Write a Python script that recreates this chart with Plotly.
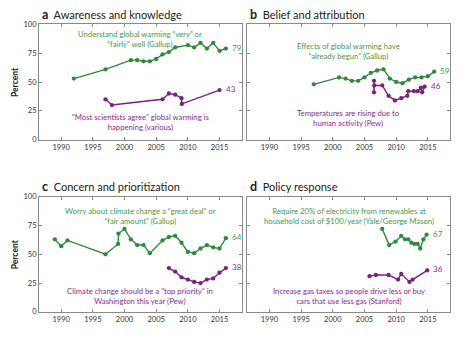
import plotly.graph_objects as go

# ---- data ----
years_a_green = [1992, 1997, 2001, 2002, 2003, 2004, 2005, 2006, 2007, 2008, 2010, 2011, 2012, 2013, 2014, 2015, 2016]
vals_a_green = [53, 61, 69, 69, 68, 68, 70, 74, 76, 80, 82, 80, 84, 79, 84, 77, 79]
years_a_purple = [1997, 1998, 2006, 2007, 2008, 2009, 2009.05, 2015]
vals_a_purple = [35, 30, 35, 40, 39, 36, 31, 43]

years_b_green = [1997, 2001, 2002, 2003, 2004, 2005, 2006, 2007, 2008, 2009, 2010, 2011, 2012, 2013, 2014, 2015, 2016]
vals_b_green = [48, 54, 53, 51, 51, 54, 58, 60, 61, 53, 50, 49, 52, 54, 54, 55, 59]
years_b_purple = [2006.5, 2006.5, 2006.55, 2007.8, 2008.8, 2009.8, 2010.8, 2011.75, 2011.9, 2012.8, 2013.4, 2013.9, 2014.1, 2014.5]
vals_b_purple = [51, 41, 47, 47, 38, 34, 36, 38, 42, 42, 42, 45, 41, 46]

years_c_green = [1989, 1990, 1991, 1997, 1999, 1999.05, 2000, 2001, 2002, 2003, 2004, 2006, 2007, 2008, 2009, 2010, 2011, 2012, 2013, 2014, 2015, 2016]
vals_c_green = [63, 57, 62, 50, 59, 68, 72, 63, 58, 58, 51, 62, 65, 66, 60, 52, 51, 55, 58, 56, 55, 64]
years_c_purple = [2007, 2008, 2009, 2010, 2011, 2012, 2013, 2014, 2015, 2016]
vals_c_purple = [38, 35, 30, 28, 26, 25, 28, 29, 34, 38]

years_d_green = [2007.8, 2008.9, 2009.9, 2010.8, 2011.4, 2011.9, 2012.4, 2012.9, 2013.4, 2013.8, 2014.3, 2014.8]
vals_d_green = [72, 58, 61, 66, 63, 63, 60, 59, 59, 55, 63, 67]
years_d_purple = [2005.8, 2006.8, 2008.8, 2010.3, 2010.8, 2012.1, 2012.6, 2014.9]
vals_d_purple = [31, 32, 32, 28, 33, 26, 28, 36]

panel_letters = ["a", "b", "c", "d"]
panel_titles = ["Awareness and knowledge", "Belief and attribution",
                "Concern and prioritization", "Policy response"]
green_texts = [
    "Understand global warming “very” or<br>“fairly” well (Gallup)",
    "Effects of global warming have<br>“already begun” (Gallup)",
    "Worry about climate change a “great deal” or<br>“fair amount” (Gallup)",
    "Require 20% of electricity from renewables at<br>household cost of $100/year (Yale/George Mason)",
]
purple_texts = [
    "“Most scientists agree” global warming is<br>happening (various)",
    "Temperatures are rising due to<br>human activity (Pew)",
    "Climate change should be a “top priority” in<br>Washington this year (Pew)",
    "Increase gas taxes so people drive less or buy<br>cars that use less gas (Stanford)",
]
green_pos = [(140, 36), (348, 48), (140, 218), (349, 218)]
purple_pos = [(140, 121), (348, 117), (140, 300), (349, 300)]

x_ticks = [1990, 1995, 2000, 2005, 2010, 2015]
y_ticks = [0, 25, 50, 75, 100]

GREEN = "#2f8a3c"
PURPLE = "#7b1f80"
GREEN_T = "#3f9a4c"
PURPLE_T = "#8a2a8f"
AX = "#8a8a8a"
FONT = "Lato"
W, H = 460, 337

series = [
    (years_a_green, vals_a_green, years_a_purple, vals_a_purple),
    (years_b_green, vals_b_green, years_b_purple, vals_b_purple),
    (years_c_green, vals_c_green, years_c_purple, vals_c_purple),
    (years_d_green, vals_d_green, years_d_purple, vals_d_purple),
]

# domains in pixels
xdoms_px = [(39, 241.7), (247.3, 450)]
ydoms_px = [(21, 139.3), (198, 316.3)]

fig = go.Figure()
layout = dict(width=W, height=H, margin=dict(l=0, r=0, t=0, b=0),
              paper_bgcolor="white", plot_bgcolor="white", showlegend=False,
              font=dict(family=FONT, size=7, color="#333"))
annotations = []

for i in range(4):
    r, c = divmod(i, 2)
    n = "" if i == 0 else str(i + 1)
    xa, ya = "x" + n, "y" + n
    x0, x1 = xdoms_px[c]
    y0, y1 = ydoms_px[r]
    xd = [x0 / W, x1 / W]
    yd = [1 - y1 / H, 1 - y0 / H]
    gx, gy, px, py = series[i]
    fig.add_trace(go.Scatter(x=gx, y=gy, mode="lines+markers", xaxis=xa, yaxis=ya,
                             line=dict(color=GREEN, width=1.4),
                             marker=dict(color=GREEN, size=4.3)))
    fig.add_trace(go.Scatter(x=px, y=py, mode="lines+markers", xaxis=xa, yaxis=ya,
                             line=dict(color=PURPLE, width=1.4),
                             marker=dict(color=PURPLE, size=4.3)))
    layout["xaxis" + n] = dict(domain=xd, range=[1986.5, 2018.5], anchor=ya,
                               tickvals=x_ticks, ticks="inside", ticklen=3,
                               tickcolor=AX, linecolor=AX, linewidth=1, mirror="ticks",
                               showgrid=False, zeroline=False,
                               tickfont=dict(family=FONT, size=7.5, color="#333"))
    layout["yaxis" + n] = dict(domain=yd, range=[0, 100], anchor=xa,
                               tickvals=y_ticks, ticks="inside", ticklen=3,
                               tickcolor=AX, linecolor=AX, linewidth=1, mirror="ticks",
                               showgrid=False, zeroline=False,
                               showticklabels=(c == 0),
                               tickfont=dict(family=FONT, size=7.5, color="#333"))
    # end labels
    annotations.append(dict(x=gx[-1], y=gy[-1], xref=xa, yref=ya, text=str(gy[-1]),
                            showarrow=False, xanchor="left", xshift=4, yshift=1,
                            font=dict(family=FONT, size=8, color=GREEN_T)))
    annotations.append(dict(x=px[-1], y=py[-1], xref=xa, yref=ya, text=str(py[-1]),
                            showarrow=False, xanchor="left", xshift=4, yshift=1,
                            font=dict(family=FONT, size=8, color=PURPLE_T)))
    # descriptions
    gxp, gyp = green_pos[i]
    annotations.append(dict(x=gxp / W, y=1 - gyp / H, xref="paper", yref="paper",
                            text=green_texts[i], showarrow=False, align="center",
                            xanchor="center", yanchor="middle",
                            font=dict(family=FONT, size=7.7, color=GREEN_T)))
    pxp, pyp = purple_pos[i]
    annotations.append(dict(x=pxp / W, y=1 - pyp / H, xref="paper", yref="paper",
                            text=purple_texts[i], showarrow=False, align="center",
                            xanchor="center", yanchor="middle",
                            font=dict(family=FONT, size=7.7, color=PURPLE_T)))
    # panel title
    annotations.append(dict(x=(x0 + 1) / W, y=1 - (y0 - 10) / H, xref="paper", yref="paper",
                            text="<b><span style='font-size:12.5px'>" + panel_letters[i]
                                 + "</span></b>  " + panel_titles[i],
                            showarrow=False, xanchor="left", yanchor="middle",
                            font=dict(family=FONT, size=11, color="#222")))
    # y-axis title
    if c == 0:
        annotations.append(dict(x=15 / W, y=1 - ((y0 + y1) / 2) / H, xref="paper", yref="paper",
                                text="<b>Percent</b>", textangle=-90, showarrow=False,
                                xanchor="center", yanchor="middle",
                                font=dict(family=FONT, size=8.5, color="#222")))

layout["annotations"] = annotations
fig.update_layout(**layout)
fig.write_html("out.html")
